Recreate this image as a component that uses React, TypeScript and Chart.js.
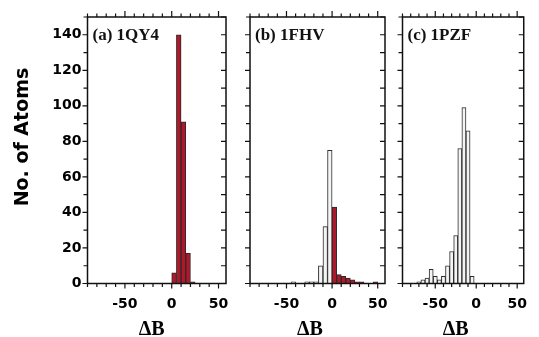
import React, { useEffect, useRef } from 'react';
import { Chart, registerables } from 'chart.js';

Chart.register(...registerables);

// ---------- data ----------
const panelLabels = ['(a) 1QY4', '(b) 1FHV', '(c) 1PZF'];

const binsA = [2.5, 7.5, 12.5, 17.5, 22.5];
const countsA = [6, 140, 91, 17, 1];

const binsB = [-42.5, -27.5, -22.5, -17.5, -12.5, -7.5, -2.5, 2.5, 7.5, 12.5, 17.5, 22.5, 27.5, 32.5, 47.5];
const countsB = [1, 1, 1, 1, 10, 32, 75, 43, 5, 4, 3, 2, 1, 1, 1];

const binsC = [-70, -65, -60, -55, -50, -45, -40, -35, -30, -25, -20, -15, -10, -5];
const countsC = [1, 2, 3, 8, 4, 2, 4, 10, 18, 27, 76, 99, 86, 4];

const xTickValues = [-50, 0, 50];
const yTickValues = [0, 20, 40, 60, 80, 100, 120, 140];

const xMin = -90;
const xMax = 58;
const xMinorStep = 10;
const yMin = 0;
const yMax = 150;
const yMinorStep = 10;

const yAxisTitle = 'No. of Atoms';
const xAxisTitle = '\u0394B';

// ---------- styles ----------
const RED = '#b0182a';
const WHITE = '#f4f4f4';
const EDGE = '#2a2a2a';
const W = 539;
const H = 337;

const framePlugin = {
  id: 'frame',
  afterDatasetsDraw(chart: any, _args: any, opts: any) {
    const { ctx, chartArea: a, scales } = chart;
    const x = scales.x;
    const y = scales.y;
    ctx.save();
    ctx.strokeStyle = '#111';
    ctx.lineWidth = 1.5;
    ctx.strokeRect(a.left, a.top, a.right - a.left, a.bottom - a.top);
    ctx.lineWidth = 1.2;
    ctx.beginPath();
    for (let v = Math.ceil(xMin / xMinorStep) * xMinorStep; v <= xMax; v += xMinorStep) {
      const px = x.getPixelForValue(v);
      const major = xTickValues.includes(v);
      ctx.moveTo(px, a.bottom);
      ctx.lineTo(px, a.bottom + (major ? 5 : 3.5));
      ctx.moveTo(px, a.top);
      ctx.lineTo(px, a.top - (major ? 6 : 3.5));
    }
    for (let v = yMin; v <= yMax; v += yMinorStep) {
      const py = y.getPixelForValue(v);
      const major = yTickValues.includes(v);
      ctx.moveTo(a.left, py);
      ctx.lineTo(a.left - (major ? 5 : 4), py);
      ctx.moveTo(a.right, py);
      ctx.lineTo(a.right - 5, py);
    }
    ctx.stroke();
    ctx.fillStyle = '#111';
    ctx.font = 'bold 17px "Liberation Serif"';
    ctx.textBaseline = 'alphabetic';
    ctx.textAlign = 'left';
    ctx.fillText(opts.label, a.left + 5, a.top + 23);
    ctx.restore();
  },
};

type PanelCfg = {
  bins: number[];
  counts: number[];
  label: string;
  left: number;
  right: number;
  showY: boolean;
  xTitlePad: string;
};

const panels: PanelCfg[] = [
  { bins: binsA, counts: countsA, label: panelLabels[0], left: 87.5, right: 226, showY: true, xTitlePad: '  ' },
  { bins: binsB, counts: countsB, label: panelLabels[1], left: 250, right: 385, showY: false, xTitlePad: '   ' },
  { bins: binsC, counts: countsC, label: panelLabels[2], left: 402.5, right: 537.5, showY: false, xTitlePad: '   ' },
];

const TOP = 17;
const BOTTOM = 283.5;

function makeConfig(p: PanelCfg): any {
  return {
    type: 'bar',
    data: {
      datasets: [
        {
          data: p.bins.map((b, i) => ({ x: b, y: p.counts[i] })),
          backgroundColor: p.bins.map((b) => (b > 0 ? RED : WHITE)),
          borderColor: EDGE,
          borderWidth: 1,
          barPercentage: 1,
          categoryPercentage: 1,
        },
      ],
    },
    options: {
      responsive: false,
      animation: false,
      devicePixelRatio: 1,
      layout: {
        padding: { left: p.showY ? 0 : p.left, right: W - p.right, top: TOP, bottom: 0 },
      },
      plugins: {
        legend: { display: false },
        tooltip: { enabled: false },
        frame: { label: p.label },
      },
      scales: {
        x: {
          type: 'linear',
          min: xMin,
          max: xMax,
          offset: false,
          grid: { display: false, drawTicks: false },
          border: { display: false },
          ticks: {
            autoSkip: false,
            maxRotation: 0,
            minRotation: 0,
            padding: 12,
            color: '#000',
            font: { family: 'DejaVu Sans', weight: 'bold', size: 14 },
            callback: (v: number) => String(v),
          },
          afterBuildTicks: (s: any) => {
            s.ticks = xTickValues.map((v) => ({ value: v }));
          },
          title: {
            display: true,
            text: xAxisTitle + p.xTitlePad,
            color: '#000',
            padding: 0,
            font: { family: 'Liberation Serif', weight: 'bold', size: 20, lineHeight: 0.7 },
          },
          afterFit: (s: any) => {
            s.height = H - BOTTOM;
          },
        },
        y: {
          type: 'linear',
          min: yMin,
          max: yMax,
          display: p.showY,
          grid: { display: false, drawTicks: false },
          border: { display: false },
          ticks: {
            autoSkip: false,
            padding: 6,
            color: '#000',
            font: { family: 'DejaVu Sans', weight: 'bold', size: 14 },
            callback: (v: number) => String(v),
          },
          afterBuildTicks: (s: any) => {
            s.ticks = yTickValues.map((v) => ({ value: v }));
          },
          title: {
            display: p.showY,
            text: '    ' + yAxisTitle,
            color: '#000',
            padding: { top: 12, bottom: 0 },
            font: { family: 'DejaVu Sans', weight: 'bold', size: 19 },
          },
          afterFit: (s: any) => {
            if (p.showY) s.width = p.left;
          },
        },
      },
    },
    plugins: [framePlugin],
  };
}

export default function App() {
  const r0 = useRef<HTMLCanvasElement>(null);
  const r1 = useRef<HTMLCanvasElement>(null);
  const r2 = useRef<HTMLCanvasElement>(null);

  useEffect(() => {
    const refs = [r0, r1, r2];
    const charts = panels.map((p, i) => new Chart(refs[i].current as HTMLCanvasElement, makeConfig(p)));
    return () => charts.forEach((c) => c.destroy());
  }, []);

  const cs: React.CSSProperties = { position: 'absolute', left: 0, top: 0 };
  return (
    <div style={{ position: 'absolute', left: 0, top: 0, width: W, height: H, background: '#fff' }}>
      <canvas ref={r0} width={W} height={H} style={cs} />
      <canvas ref={r1} width={W} height={H} style={cs} />
      <canvas ref={r2} width={W} height={H} style={cs} />
    </div>
  );
}
